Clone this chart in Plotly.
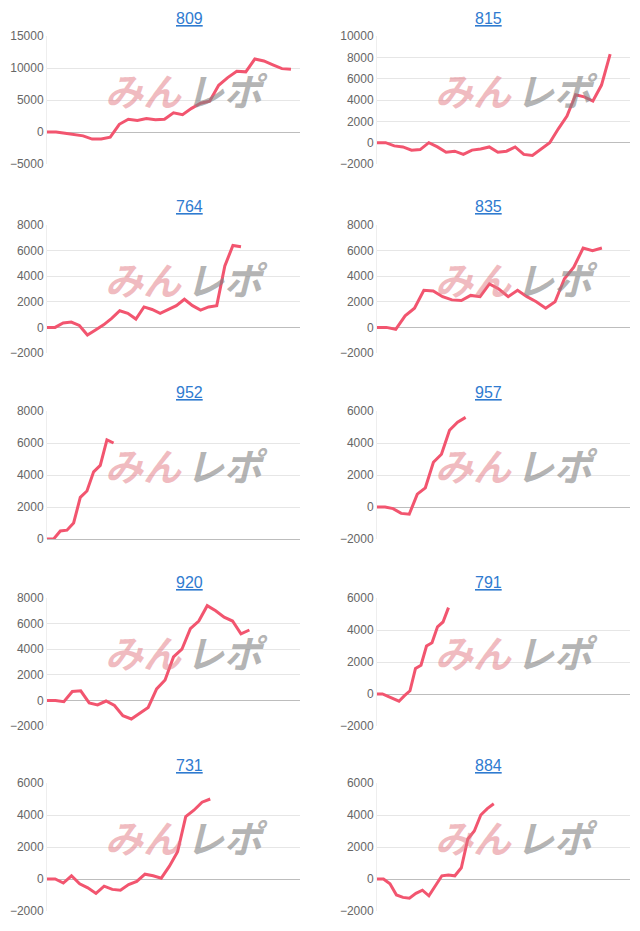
import plotly.graph_objects as go

titles = ["809", "815", "764", "835", "952", "957", "920", "791", "731", "884"]
s809 = [0, 0, -200, -400, -600, -1100, -1100, -800, 1200, 2000, 1800, 2100, 1900, 2000, 3000, 2700, 3700, 4500, 4800, 7300, 8500, 9500, 9400, 11400, 11100, 10500, 9900, 9800]
s815 = [0, 0, -300, -400, -700, -650, 0, -400, -900, -800, -1100, -700, -600, -400, -900, -800, -400, -1100, -1200, -600, 0, 1300, 2500, 4500, 4300, 3900, 5400, 8300]
s764 = [0, 0, 350, 420, 150, -600, -200, 200, 700, 1300, 1100, 650, 1600, 1400, 1100, 1400, 1700, 2200, 1700, 1350, 1600, 1700, 4800, 6400, 6300]
s835 = [0, 0, -150, 900, 1500, 2900, 2850, 2400, 2150, 2100, 2500, 2400, 3400, 3000, 2400, 2900, 2400, 2000, 1500, 2000, 3800, 4700, 6200, 6000, 6200]
s952 = [0, 0, 500, 550, 1000, 2600, 3000, 4200, 4600, 6200, 6000]
s957 = [0, 0, -100, -400, -450, 800, 1200, 2800, 3300, 4800, 5300, 5600]
s920 = [0, 0, -100, 700, 750, -200, -350, -50, -400, -1200, -1450, -1000, -550, 900, 1600, 3400, 4000, 5600, 6200, 7400, 7000, 6500, 6200, 5200, 5500]
s791 = [0, 0, -150, -300, -450, -100, 200, 1600, 1800, 3000, 3200, 4200, 4500, 5400]
s731 = [0, 0, -250, 200, -300, -550, -900, -450, -650, -700, -350, -150, 300, 200, 50, 800, 1700, 3900, 4300, 4800, 5000]
s884 = [0, 0, -300, -1000, -1150, -1200, -900, -700, -1050, -400, 200, 250, 200, 700, 2500, 3000, 4000, 4400, 4700]
series = [s809, s815, s764, s835, s952, s957, s920, s791, s731, s884]
y_ranges = [[-5000, 15000], [-2000, 10000], [-2000, 8000], [-2000, 8000], [0, 8000],
            [-2000, 6000], [-2000, 8000], [-2000, 6000], [-2000, 6000], [-2000, 6000]]
y_dticks = [5000, 2000, 2000, 2000, 2000, 2000, 2000, 2000, 2000, 2000]
x_spans = [28, 29.3, 31.3, 27, 38, 31.4, 30, 46, 31, 39]

W, H = 640, 931
OFF = 8
plot_tops = [36, 225, 411, 598, 783]
plot_h = 128
title_y = [18, 207, 392, 582, 765]
col_x = [(47, 300), (377, 630)]

fig = go.Figure()
for i, (t, s) in enumerate(zip(titles, series)):
    r, c = divmod(i, 2)
    n = i + 1
    xa = "x" if n == 1 else f"x{n}"
    ya = "y" if n == 1 else f"y{n}"
    fig.add_trace(go.Scatter(x=list(range(len(s))), y=s, mode="lines",
                             line=dict(color="#f2556f", width=3),
                             xaxis=xa, yaxis=ya, showlegend=False, hoverinfo="skip"))
    x0, x1 = col_x[c][0] - OFF, col_x[c][1] - OFF
    y0 = plot_tops[r] - OFF
    fig.layout[f"xaxis{'' if n == 1 else n}"] = dict(
        domain=[x0 / W, x1 / W], range=[0, x_spans[i]], showticklabels=False,
        showgrid=False, zeroline=False, showline=False, anchor=ya, automargin=False)
    fig.layout[f"yaxis{'' if n == 1 else n}"] = dict(
        domain=[1 - (y0 + plot_h) / H, 1 - y0 / H], range=y_ranges[i], dtick=y_dticks[i],
        tickformat="d", automargin=False,
        showgrid=True, gridcolor="#e6e6e6", zeroline=True, zerolinecolor="#bdbdbd",
        zerolinewidth=1, showline=True, linecolor="#eeeeee", anchor=xa,
        tickfont=dict(family="Liberation Sans, Arial", size=12, color="#666666"), ticks="")
    xc = (x0 + x1) / 2
    fig.add_annotation(x=xc / W, y=1 - (title_y[r] - OFF) / H, xref="paper", yref="paper",
                       text=f"<u>{t}</u>", showarrow=False, yanchor="middle",
                       font=dict(family="Liberation Sans, Arial", size=16, color="#2f7bd0"))
    wy = 1 - (y0 + plot_h * 0.42) / H
    wx = (x0 + 0.54 * (x1 - x0)) / W
    fig.add_annotation(x=wx, y=wy, xref="paper", yref="paper", yanchor="middle",
                       text="<b><i>みん</i></b>", showarrow=False, xanchor="right",
                       font=dict(family="Noto Sans CJK JP", size=38, color="rgba(225,120,130,0.5)"))
    fig.add_annotation(x=wx, y=wy, xref="paper", yref="paper", yanchor="middle",
                       text="<b><i>レポ</i></b>", showarrow=False, xanchor="left",
                       font=dict(family="Noto Sans CJK JP", size=38, color="rgba(130,130,130,0.6)"))

fig.update_layout(width=W, height=H, margin=dict(l=0, r=0, t=0, b=0),
                  paper_bgcolor="white", plot_bgcolor="white")
fig.write_html("out.html")
